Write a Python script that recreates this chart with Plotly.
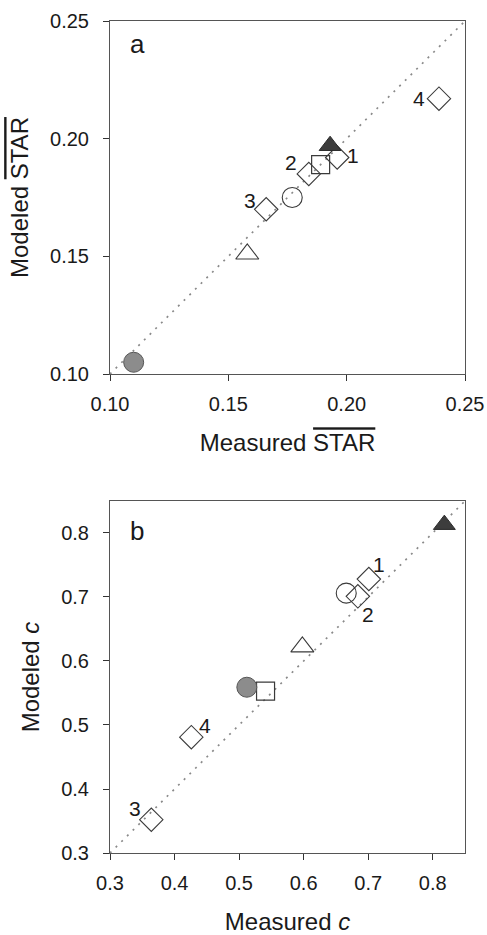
import plotly.graph_objects as go
from plotly.subplots import make_subplots

# ---------------- data ----------------
# Panel a (STAR)
a_diamond_x = [0.196, 0.184, 0.166, 0.239]
a_diamond_y = [0.192, 0.185, 0.170, 0.217]
a_diamond_labels = ["1", "2", "3", "4"]
a_open_circle = ([0.177], [0.175])
a_gray_circle = ([0.110], [0.105])
a_open_triangle = ([0.158], [0.151])
a_dark_triangle = ([0.193], [0.197])
a_square = ([0.189], [0.189])
a_range = [0.10, 0.25]
a_ticks = [0.10, 0.15, 0.20, 0.25]

# Panel b (c)
b_diamond_x = [0.701, 0.684, 0.364, 0.426]
b_diamond_y = [0.728, 0.701, 0.352, 0.481]
b_diamond_labels = ["1", "2", "3", "4"]
b_open_circle = ([0.666], [0.706])
b_gray_circle = ([0.512], [0.559])
b_open_triangle = ([0.598], [0.622])
b_dark_triangle = ([0.818], [0.813])
b_square = ([0.541], [0.553])
b_range = [0.30, 0.85]
b_ticks = [0.3, 0.4, 0.5, 0.6, 0.7, 0.8]

# ---------------- styling ----------------
FONT = "Liberation Sans, Arial, sans-serif"
LINE = "#3a3a3a"

fig = make_subplots(rows=2, cols=1, vertical_spacing=0.0)


def add_panel(row, rng, dx, dy, dlab, oc, gc, ot, dt, sq, offsets):
    # 1:1 dotted line
    fig.add_trace(go.Scatter(x=rng, y=rng, mode="lines",
                             line=dict(color="#8a8a8a", width=1.7, dash="2px,6px"),
                             showlegend=False, hoverinfo="skip"), row=row, col=1)
    fig.add_trace(go.Scatter(x=dx, y=dy, mode="markers",
                             marker=dict(symbol="diamond-open", size=18, color=LINE,
                                         line=dict(width=1.1)),
                             showlegend=False), row=row, col=1)
    fig.add_trace(go.Scatter(x=oc[0], y=oc[1], mode="markers",
                             marker=dict(symbol="circle-open", size=20, color=LINE,
                                         line=dict(width=1.1)),
                             showlegend=False), row=row, col=1)
    fig.add_trace(go.Scatter(x=sq[0], y=sq[1], mode="markers",
                             marker=dict(symbol="square-open", size=18, color=LINE,
                                         line=dict(width=1.2)),
                             showlegend=False), row=row, col=1)
    fig.add_trace(go.Scatter(x=ot[0], y=ot[1], mode="markers",
                             marker=dict(symbol="triangle-up-open", size=20, color=LINE,
                                         line=dict(width=1.1)),
                             showlegend=False), row=row, col=1)
    fig.add_trace(go.Scatter(x=gc[0], y=gc[1], mode="markers",
                             marker=dict(symbol="circle", size=20, color="#8c8c8c",
                                         line=dict(width=1, color="#555555")),
                             showlegend=False), row=row, col=1)
    fig.add_trace(go.Scatter(x=dt[0], y=dt[1], mode="markers",
                             marker=dict(symbol="triangle-up", size=19, color="#3d3d3d",
                                         line=dict(width=1, color="#2a2a2a")),
                             showlegend=False), row=row, col=1)
    xref = "x" if row == 1 else "x2"
    yref = "y" if row == 1 else "y2"
    for x, y, t, (ox, oy) in zip(dx, dy, dlab, offsets):
        fig.add_annotation(x=x, y=y, xref=xref, yref=yref, text=t, showarrow=False,
                           xshift=ox, yshift=oy,
                           font=dict(family=FONT, size=21, color="#1a1a1a"))


add_panel(1, a_range, a_diamond_x, a_diamond_y, a_diamond_labels,
          a_open_circle, a_gray_circle, a_open_triangle, a_dark_triangle, a_square,
          [(16, 2), (-18, 11), (-16, 9), (-20, 0)])
add_panel(2, b_range, b_diamond_x, b_diamond_y, b_diamond_labels,
          b_open_circle, b_gray_circle, b_open_triangle, b_dark_triangle, b_square,
          [(10, 15), (10, -18), (-16, 11), (14, 12)])

# panel letters
fig.add_annotation(text="a", xref="x domain", yref="y domain", x=0.05, y=0.935,
                   showarrow=False, xanchor="left", yanchor="middle",
                   font=dict(family=FONT, size=26, color="#1a1a1a"))
fig.add_annotation(text="b", xref="x2 domain", yref="y2 domain", x=0.05, y=0.915,
                   showarrow=False, xanchor="left", yanchor="middle",
                   font=dict(family=FONT, size=26, color="#1a1a1a"))

axis_common = dict(showgrid=False, zeroline=False, showline=True, mirror=True,
                   linecolor="#555555", linewidth=1, ticks="outside", ticklen=6,
                   tickcolor="#333333", tickwidth=1, automargin=False,
                   tickfont=dict(family=FONT, size=20, color="#1a1a1a"))

star = '<span style="text-decoration:overline">STAR</span>'
title_font = dict(family=FONT, size=24, color="#1a1a1a")

fig.update_xaxes(range=a_range, tickvals=a_ticks, tickformat=".2f",
                 title=dict(text="Measured " + star, standoff=20, font=title_font),
                 ticklabelstandoff=6, **axis_common, row=1, col=1)
fig.update_yaxes(range=a_range, tickvals=a_ticks, tickformat=".2f",
                 title=dict(text="Modeled " + star, standoff=14, font=title_font),
                 ticklabelstandoff=10, **axis_common, row=1, col=1)
fig.update_xaxes(range=b_range, tickvals=b_ticks, tickformat=".1f",
                 title=dict(text="Measured <i>c</i>", standoff=20, font=title_font),
                 ticklabelstandoff=6, **axis_common, row=2, col=1)
fig.update_yaxes(range=b_range, tickvals=b_ticks, tickformat=".1f",
                 title=dict(text="Modeled <i>c</i>", standoff=14, font=title_font),
                 ticklabelstandoff=10, **axis_common, row=2, col=1)

fig.update_layout(
    width=487, height=935,
    margin=dict(l=110, r=22, t=21, b=82),
    paper_bgcolor="white", plot_bgcolor="white",
    xaxis=dict(domain=[0, 1]),
    yaxis=dict(domain=[0.5757, 1.0]),
    xaxis2=dict(domain=[0, 1]),
    yaxis2=dict(domain=[0.0, 0.4231]),
    showlegend=False,
)

fig.write_html("out.html")
